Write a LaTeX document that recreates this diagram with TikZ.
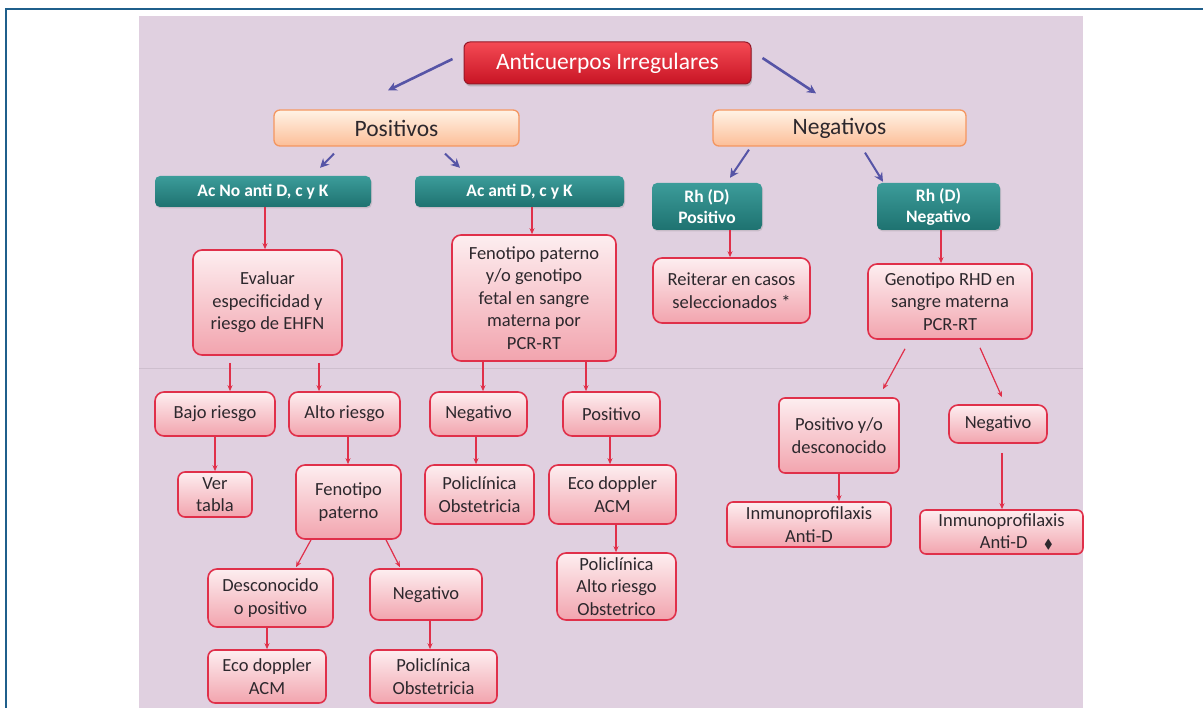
\documentclass[tikz,border=0pt]{standalone}
\usepackage{amssymb}
\usepackage{fontspec}
\setmainfont{Carlito}
\usetikzlibrary{arrows.meta,shadows}
\definecolor{lavanda}{RGB}{224,208,224}
\definecolor{marco}{RGB}{31,95,139}
\definecolor{rojoarr}{RGB}{224,48,74}
\definecolor{azularr}{RGB}{86,84,166}
\definecolor{rosatop}{RGB}{253,238,240}
\definecolor{rosabot}{RGB}{242,164,174}
\definecolor{naratop}{RGB}{255,243,230}
\definecolor{narabot}{RGB}{252,190,152}
\definecolor{naraline}{RGB}{244,150,96}
\definecolor{tealtop}{RGB}{60,156,154}
\definecolor{tealbot}{RGB}{30,114,112}
\definecolor{titop}{RGB}{244,74,84}
\definecolor{tibot}{RGB}{200,20,36}
\definecolor{tiline}{RGB}{150,24,40}
\definecolor{texto}{RGB}{45,40,45}

\tikzset{
  paso/.style={draw=rojoarr, line width=1.6pt, rounded corners=9pt,
    top color=rosatop, bottom color=rosabot, align=center, text=texto,
    font=\fontsize{18.5}{22.5}\selectfont, inner sep=0pt},
  rama/.style={draw=naraline, line width=1.3pt, rounded corners=6pt,
    top color=naratop, bottom color=narabot, text=texto,
    font=\fontsize{23.5}{26}\selectfont, inner sep=0pt},
  grupo/.style={rounded corners=5pt, top color=tealtop, bottom color=tealbot,
    text=white, align=center, font=\bfseries\fontsize{17.5}{21}\selectfont,
    inner sep=0pt, drop shadow={opacity=0.25, shadow xshift=1pt, shadow yshift=-1.5pt}},
  raiz/.style={draw=tiline, line width=1pt, rounded corners=6pt,
    top color=titop, bottom color=tibot, text=white,
    font=\fontsize{23.5}{26}\selectfont, inner sep=0pt,
    drop shadow={opacity=0.4, shadow xshift=1pt, shadow yshift=-2.5pt}},
  flecha/.style={draw=rojoarr, line width=1.2pt, -{Stealth[length=6pt,width=5pt]}},
  flechaazul/.style={draw=azularr, line width=2.6pt, -{Stealth[length=9pt,width=9pt]}}
}

\begin{document}
\begin{tikzpicture}[x=1pt,y=-1pt]
  \useasboundingbox (0,0) rectangle (1203,708);
  \fill[white] (0,0) rectangle (1203,708);
  \draw[marco, line width=2pt] (6,708) -- (6,9) -- (1203,9);
  \fill[lavanda] (139,16) rectangle (1083,708);
  \draw[lavanda!92!black, line width=0.8pt] (139,368) -- (1083,368);

  % cabecera
  \node[raiz, minimum width=287, minimum height=42] (titulo) at (607.5,63) {Anticuerpos Irregulares};
  \node[rama, minimum width=245, minimum height=36] (positivos) at (396.5,128) {Positivos};
  \node[rama, minimum width=253, minimum height=36] (negativos) at (839.5,128) {Negativos};

  \node[grupo, minimum width=216, minimum height=31] (acno) at (263,191.5) {Ac No anti D, c y K};
  \node[grupo, minimum width=209, minimum height=31] (acsi) at (519.5,191.5) {Ac anti D, c y K};
  \node[grupo, minimum width=110, minimum height=47] (rhpos) at (707,206.5) {Rh (D)\\Positivo};
  \node[grupo, minimum width=123, minimum height=47] (rhneg) at (938.5,206.5) {Rh (D)\\Negativo};

  % rama positiva
  \node[paso, minimum width=149, minimum height=105] (evaluar) at (267.5,302.5) {Evaluar\\especificidad y\\riesgo de EHFN};
  \node[paso, minimum width=164, minimum height=126] (fenotipo) at (534,298) {Fenotipo paterno\\y/o genotipo\\fetal en sangre\\materna por\\PCR-RT};
  \node[paso, minimum width=120, minimum height=44] (bajo) at (215,414) {Bajo riesgo};
  \node[paso, minimum width=111, minimum height=44] (alto) at (344.5,414) {Alto riesgo};
  \node[paso, minimum width=97, minimum height=44] (negA) at (478.5,414) {Negativo};
  \node[paso, minimum width=97, minimum height=44] (posA) at (611.5,414) {Positivo};
  \node[paso, minimum width=74, minimum height=45, rounded corners=7pt] (vertabla) at (215,494.5) {Ver\\tabla};
  \node[paso, minimum width=105, minimum height=74] (fenpat) at (348.5,502) {Fenotipo\\paterno};
  \node[paso, minimum width=109, minimum height=59] (poli1) at (479.5,494.5) {Policlínica\\Obstetricia};
  \node[paso, minimum width=127, minimum height=59] (eco1) at (612.5,494.5) {Eco doppler\\ACM};
  \node[paso, minimum width=119, minimum height=67] (polialto) at (616.5,586.5) {Policlínica\\Alto riesgo\\Obstetrico};
  \node[paso, minimum width=125, minimum height=58] (desc) at (270.5,598) {Desconocido\\o positivo};
  \node[paso, minimum width=112, minimum height=51] (negC) at (426,594.5) {Negativo};
  \node[paso, minimum width=118, minimum height=53, rounded corners=7pt] (eco2) at (267,676.5) {Eco doppler\\ACM};
  \node[paso, minimum width=127, minimum height=53, rounded corners=7pt] (poli2) at (433.5,676.5) {Policlínica\\Obstetricia};

  % rama negativa
  \node[paso, minimum width=157, minimum height=65] (reiterar) at (731.5,290.5) {Reiterar en casos\\seleccionados *};
  \node[paso, minimum width=164, minimum height=75] (genotipo) at (950,301.5) {Genotipo RHD en\\sangre materna\\PCR-RT};
  \node[paso, minimum width=120, minimum height=75, rounded corners=6pt] (posdesc) at (839,435.5) {Positivo y/o\\desconocido};
  \node[paso, minimum width=98, minimum height=38] (negB) at (998,424) {Negativo};
  \node[paso, minimum width=164, minimum height=45, rounded corners=6pt] (inmuno1) at (809,524.5) {Inmunoprofilaxis\\Anti-D};
  \node[paso, minimum width=163, minimum height=44, rounded corners=6pt] (inmuno2) at (1001.5,532) {Inmunoprofilaxis\\\hspace*{1.6em}Anti-D\hspace{0.9em}$\scriptstyle\blacklozenge$};

  % flechas azules
  \draw[flechaazul] ([shift={(-11,-4)}]titulo.west) -- ([shift={(-8.5,-19)}]positivos.north);
  \draw[flechaazul] ([shift={(11,-5)}]titulo.east) -- ([shift={(-23.5,-16)}]negativos.north);
  \draw[flechaazul, line width=2pt] ([shift={(-62.5,7)}]positivos.south) -- ([shift={(57,-8)}]acno.north);
  \draw[flechaazul, line width=2pt] ([shift={(48.5,7)}]positivos.south) -- ([shift={(-59.5,-8)}]acsi.north);
  \draw[flechaazul, line width=2pt] ([shift={(-90.5,3)}]negativos.south) -- ([shift={(23,-5)}]rhpos.north);
  \draw[flechaazul, line width=2pt] ([shift={(25.5,6)}]negativos.south) -- ([shift={(-55.5,-1)}]rhneg.north);

  % flechas rojas
  \draw[flecha] ([xshift=2pt]acno.south) -- ([xshift=2pt]acno.south |- evaluar.north);
  \draw[flecha] ([xshift=12.5pt]acsi.south) -- ([xshift=12.5pt]acsi.south |- fenotipo.north);
  \draw[flecha] ([xshift=23pt]rhpos.south) -- ([xshift=23pt]rhpos.south |- reiterar.north);
  \draw[flecha] ([xshift=2.5pt]rhneg.south) -- ([xshift=2.5pt]rhneg.south |- genotipo.north);
  \draw[flecha] ([shift={(-37.5,7)}]evaluar.south) -- ([xshift=-37.5pt]evaluar.south |- bajo.north);
  \draw[flecha] ([shift={(51.5,7)}]evaluar.south) -- ([xshift=51.5pt]evaluar.south |- alto.north);
  \draw[flecha] ([xshift=-51pt]fenotipo.south) -- ([xshift=-51pt]fenotipo.south |- negA.north);
  \draw[flecha] ([xshift=52pt]fenotipo.south) -- ([xshift=52pt]fenotipo.south |- posA.north);
  \draw[flecha] ([shift={(-45,9)}]genotipo.south) -- ([shift={(44,-8)}]posdesc.north);
  \draw[flecha] ([shift={(30,8)}]genotipo.south) -- ([shift={(4,-7)}]negB.north);
  \draw[flecha] (bajo.south) -- (vertabla.north);
  \draw[flecha] ([xshift=3.5pt]alto.south) -- ([xshift=3.5pt]alto.south |- fenpat.north);
  \draw[flecha] ([xshift=-2.5pt]negA.south) -- ([xshift=-2.5pt]negA.south |- poli1.north);
  \draw[flecha] ([xshift=-1.5pt]posA.south) -- ([xshift=-1.5pt]posA.south |- eco1.north);
  \draw[flecha] (posdesc.south) -- (posdesc.south |- inmuno1.north);
  \draw[flecha] ([shift={(4,9)}]negB.south) -- ([xshift=4pt]negB.south |- inmuno2.north);
  \draw[flecha] ([xshift=-37.5pt]fenpat.south) -- ([shift={(25.5,-1)}]desc.north);
  \draw[flecha] ([xshift=37.5pt]fenpat.south) -- ([shift={(-26,-1)}]negC.north);
  \draw[flecha] ([xshift=-3.5pt]desc.south) -- ([xshift=-3.5pt]desc.south |- eco2.north);
  \draw[flecha] ([xshift=4pt]negC.south) -- ([xshift=4pt]negC.south |- poli2.north);
  \draw[flecha] ([xshift=3.5pt]eco1.south) -- ([xshift=3.5pt]eco1.south |- polialto.north);
\end{tikzpicture}
\end{document}
